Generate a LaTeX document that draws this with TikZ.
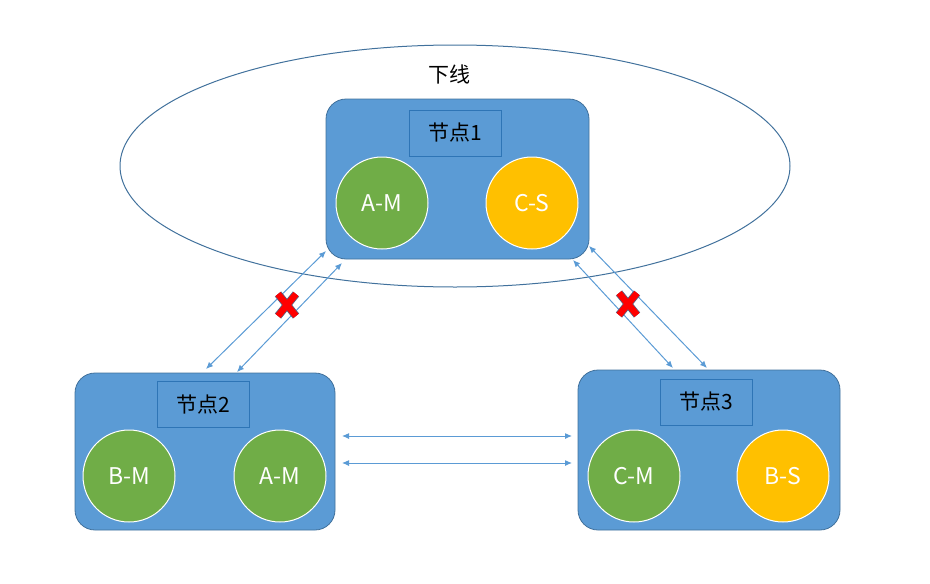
\documentclass[tikz,border=0pt]{standalone}
\usepackage{fontspec}
\setmainfont{Noto Sans CJK SC}
\usetikzlibrary{arrows.meta,shapes.geometric}
\definecolor{boxblue}{HTML}{5B9BD5}
\definecolor{boxedge}{HTML}{41719C}
\definecolor{lbledge}{HTML}{2E75B6}
\definecolor{mgreen}{HTML}{70AD47}
\definecolor{syellow}{HTML}{FFC000}
\definecolor{xred}{HTML}{FF0000}
\definecolor{xedge}{HTML}{5A6080}
\tikzset{
  nodebox/.style={draw=boxedge, fill=boxblue, rounded corners=20pt, line width=0.8pt},
  lbl/.style={draw=lbledge, fill=boxblue, line width=1pt, minimum width=92pt, minimum height=46pt, inner sep=0pt, font=\fontsize{21}{21}\selectfont, text=black},
  master/.style={circle, draw=white, fill=mgreen, line width=1pt, minimum size=92pt, inner sep=0pt, text=white, font=\fontsize{23}{23}\selectfont},
  slave/.style={circle, draw=white, fill=syellow, line width=1pt, minimum size=92pt, inner sep=0pt, text=white, font=\fontsize{23}{23}\selectfont},
  link/.style={draw=boxblue, line width=1pt, {Latex[length=7pt,width=6pt]}-{Latex[length=7pt,width=6pt]}},
}
\begin{document}
\begin{tikzpicture}[x=1pt,y=-1pt]
\useasboundingbox (0,0) rectangle (930,584);
% offline ellipse
\node[draw=boxedge, line width=1pt, ellipse, minimum width=670pt, minimum height=242pt, inner sep=0pt] (off) at (455,166) {};
\node[font=\fontsize{21}{21}\selectfont] (offtxt) at (449,74) {下线};
% boxes
\node[nodebox, minimum width=263pt, minimum height=160pt] (n1) at (457.5,179) {};
\node[nodebox, minimum width=260pt, minimum height=157pt] (n2) at (205,451.5) {};
\node[nodebox, minimum width=262pt, minimum height=160pt] (n3) at (709,450) {};
% labels
\node[lbl] (l1) at (455,133) {节点1};
\node[lbl] (l2) at (203.5,404.5) {节点2};
\node[lbl] (l3) at (706.5,402) {节点3};
% circles
\node[master] (am1) at (382,203) {A-M};
\node[slave] (cs1) at (532,203) {C-S};
\node[master] (bm2) at (129,476) {B-M};
\node[master] (am2) at (280,476) {A-M};
\node[master] (cm3) at (634,476) {C-M};
\node[slave] (bs3) at (783,476) {B-S};
% arrow endpoints
\coordinate (a1t) at (326,251);
\coordinate (a1b) at (206,369);
\coordinate (a2t) at (342,263);
\coordinate (a2b) at (237,372);
\coordinate (b1t) at (573,260);
\coordinate (b1b) at (673,368);
\coordinate (b2t) at (589,246);
\coordinate (b2b) at (707,368);
\coordinate (h1l) at (342,436);
\coordinate (h1r) at (572,436);
\coordinate (h2l) at (342,463);
\coordinate (h2r) at (572,463);
\draw[link] (a1b) -- (a1t);
\draw[link] (a2b) -- (a2t);
\draw[link] (b1b) -- (b1t);
\draw[link] (b2b) -- (b2t);
\draw[link] (h1l) -- (h1r);
\draw[link] (h2l) -- (h2r);
% crosses
\coordinate (x1) at (287,305);
\coordinate (x2) at (628,304);
\foreach \c in {x1,x2}{
  \draw[xedge, line width=8pt] ([shift={(-9,-11)}]\c) -- ([shift={(9,11)}]\c);
  \draw[xedge, line width=8pt] ([shift={(9,-11)}]\c) -- ([shift={(-9,11)}]\c);
}
\foreach \c in {x1,x2}{
  \draw[xred, line width=6.4pt] ([shift={(-9,-11)}]\c) -- ([shift={(9,11)}]\c);
  \draw[xred, line width=6.4pt] ([shift={(9,-11)}]\c) -- ([shift={(-9,11)}]\c);
}
\end{tikzpicture}
\end{document}
